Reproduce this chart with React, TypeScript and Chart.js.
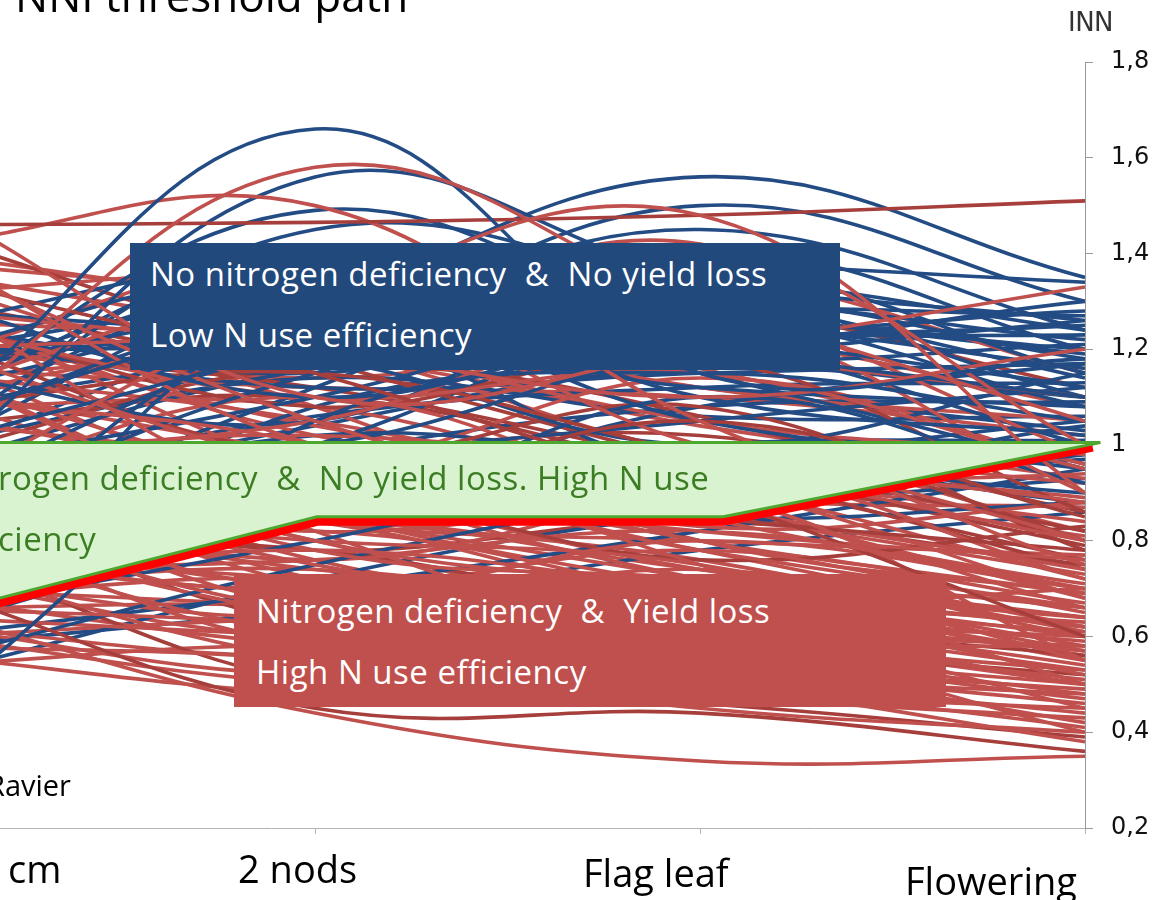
import React, { useEffect, useRef } from 'react';
import { Chart, registerables } from 'chart.js';

Chart.register(...registerables);

// ---- data ----
const stageLabels = ['Ear 1 cm', '2 nods', 'Flag leaf', 'Flowering'];
const stagePositions = [0, 1, 2, 3];
const yTickValues = [0.2, 0.4, 0.6, 0.8, 1.0, 1.2, 1.4, 1.6, 1.8];

// NNI threshold path (lower edge of the green zone)
const thresholdStages = [0, 1.005, 2.06, 3.02];
const thresholdNNI = [0.643, 0.85, 0.85, 1.005];
const zoneTopNNI = 1.005;
const zoneTipStage = 3.04;

// Plots without yield loss (blue), NNI at each stage
const blueLines = [
  [1.05, 1.66, 1.15, 1.18],
  [1.05, 1.30, 1.56, 1.35],
  [1.00, 1.22, 1.50, 1.30],
  [0.95, 1.56, 1.35, 1.26],
  [1.10, 1.49, 1.25, 1.12],
  [1.25, 1.40, 1.38, 1.34],
  [0.60, 1.30, 1.20, 1.10],
  [0.45, 1.05, 1.15, 1.05],
  [1.30, 1.10, 1.25, 1.20],
  [1.20, 1.35, 1.10, 1.02],
  [0.85, 1.15, 1.30, 1.18],
  [1.00, 1.00, 1.20, 1.25],
  [0.75, 1.25, 1.05, 0.95],
  [1.15, 1.05, 1.35, 1.15],
  [0.90, 1.20, 1.12, 1.08],
  [0.70, 0.95, 1.05, 1.12],
  [1.05, 1.28, 1.22, 1.00],
  [0.80, 0.85, 1.10, 0.92],
  [1.20, 1.18, 1.00, 1.15],
  [0.95, 1.10, 1.28, 1.22],
  [0.65, 0.80, 0.95, 0.90],
  [1.10, 1.40, 1.25, 1.28],
  [0.85, 1.02, 0.98, 1.05],
  [1.00, 1.32, 1.15, 0.95],
  [0.55, 0.75, 0.90, 0.98],
  [1.25, 1.15, 1.30, 1.10],
  [0.80, 1.12, 1.40, 1.20],
  [0.92, 0.90, 1.08, 1.17],
  [1.12, 1.24, 0.95, 1.04],
  [0.70, 1.08, 1.18, 1.26],
  [0.88, 0.95, 0.85, 0.88],
  [1.02, 1.45, 1.32, 1.14],
  [0.60, 0.70, 0.82, 0.95],
  [1.18, 1.26, 1.45, 1.24],
  [0.78, 1.00, 1.25, 1.08],
  [1.08, 1.20, 1.28, 1.27],
  [0.96, 1.16, 1.22, 1.23],
  [1.15, 1.28, 1.18, 1.21],
  [1.22, 1.12, 1.15, 1.17],
  [0.90, 1.06, 1.12, 1.13],
  [0.82, 0.98, 1.08, 1.09],
  [1.00, 1.14, 1.06, 1.06],
  [1.28, 1.22, 1.12, 1.03],
  [0.74, 0.92, 1.00, 1.01],
  [0.68, 0.88, 0.92, 0.97],
  [0.52, 0.72, 0.86, 0.93],
  [0.62, 0.84, 0.96, 0.88],
  [1.06, 1.36, 1.28, 1.19],
  [0.98, 1.26, 1.34, 1.24],
  [1.14, 1.34, 1.22, 1.30],
  [0.86, 1.04, 1.16, 1.10],
  [0.58, 0.66, 0.78, 0.86],
  [1.20, 1.30, 1.26, 1.16],
];

// Plots with yield loss (red), NNI at each stage
const redLines = [
  [1.05, 1.58, 1.30, 1.05],
  [0.90, 1.30, 1.48, 0.90],
  [1.20, 1.25, 1.42, 1.00],
  [1.46, 1.465, 1.48, 1.51],
  [1.42, 1.50, 1.05, 0.80],
  [1.50, 1.10, 1.20, 1.33],
  [1.40, 1.00, 0.95, 0.80],
  [1.38, 1.05, 0.85, 0.70],
  [1.30, 0.90, 1.00, 0.75],
  [1.35, 1.15, 0.90, 0.60],
  [1.28, 1.20, 1.10, 1.20],
  [1.20, 0.95, 0.80, 0.65],
  [1.15, 0.85, 0.90, 0.55],
  [1.10, 1.00, 0.75, 0.50],
  [1.05, 0.80, 0.70, 0.60],
  [1.00, 0.90, 1.05, 0.85],
  [0.95, 0.75, 0.65, 0.45],
  [0.90, 0.70, 0.80, 0.70],
  [0.85, 0.65, 0.60, 0.40],
  [0.80, 0.60, 0.55, 0.42],
  [0.75, 0.55, 0.50, 0.38],
  [0.70, 0.45, 0.44, 0.36],
  [0.65, 0.44, 0.34, 0.35],
  [0.60, 0.50, 0.48, 0.45],
  [1.25, 1.10, 1.15, 0.95],
  [1.12, 1.30, 1.00, 0.88],
  [0.98, 1.05, 1.25, 0.90],
  [0.88, 0.95, 0.85, 0.78],
  [0.78, 0.85, 0.95, 0.72],
  [0.72, 0.78, 0.70, 0.62],
  [0.68, 0.72, 0.62, 0.58],
  [1.32, 1.35, 1.20, 1.10],
  [1.18, 1.40, 1.30, 0.98],
  [1.08, 1.15, 0.98, 0.82],
  [0.96, 1.02, 0.92, 0.68],
  [0.86, 0.80, 0.75, 0.55],
  [0.76, 0.68, 0.58, 0.48],
  [0.66, 0.62, 0.52, 0.44],
  [0.58, 0.55, 0.45, 0.40],
  [1.22, 0.98, 1.08, 0.78],
  [1.02, 0.88, 0.98, 0.92],
  [0.92, 1.10, 0.88, 0.74],
  [0.82, 0.92, 0.78, 0.66],
  [0.74, 0.82, 0.68, 0.52],
  [1.36, 1.22, 1.05, 0.98],
  [1.26, 1.08, 1.18, 0.86],
  [1.14, 0.92, 0.82, 0.76],
  [1.04, 0.78, 0.72, 0.64],
  [0.94, 0.66, 0.70, 0.57],
  [0.84, 0.58, 0.62, 0.50],
  [0.64, 0.60, 0.56, 0.47],
  [0.70, 0.88, 0.76, 0.83],
  [0.80, 1.00, 0.83, 0.88],
  [0.90, 0.76, 0.90, 0.94],
  [1.00, 0.72, 0.66, 0.70],
  [1.16, 0.82, 0.60, 0.58],
  [1.30, 0.94, 0.72, 0.62],
  [1.44, 1.18, 0.96, 0.74],
  [1.40, 1.28, 1.12, 1.05],
  [0.62, 0.52, 0.58, 0.53],
  [0.56, 0.48, 0.47, 0.43],
  [0.82, 0.64, 0.54, 0.46],
  [1.06, 0.96, 1.14, 0.96],
  [0.98, 1.16, 1.06, 0.80],
  [1.24, 1.04, 0.92, 0.72],
  [0.72, 0.64, 0.74, 0.60],
  [0.88, 0.84, 0.66, 0.54],
  [1.10, 1.25, 1.35, 1.15],
  [0.95, 0.70, 0.52, 0.41],
  [0.78, 0.50, 0.46, 0.39],
  [1.15, 1.05, 0.88, 0.68],
  [1.05, 0.95, 0.78, 0.62],
  [0.98, 0.85, 0.72, 0.58],
  [0.92, 0.82, 0.86, 0.66],
  [0.86, 0.74, 0.68, 0.63],
  [0.80, 0.78, 0.64, 0.56],
  [0.76, 0.70, 0.78, 0.67],
  [0.70, 0.66, 0.60, 0.51],
  [0.68, 0.58, 0.54, 0.49],
  [0.62, 0.56, 0.63, 0.57],
  [1.28, 1.02, 0.94, 0.84],
  [1.20, 1.12, 0.96, 0.79],
  [1.12, 0.98, 0.86, 0.73],
  [1.34, 1.08, 0.80, 0.69],
  [1.18, 0.88, 0.76, 0.61],
  [1.00, 0.84, 0.80, 0.77],
  [0.94, 0.90, 0.74, 0.64],
  [0.90, 0.62, 0.58, 0.52],
  [0.84, 0.86, 0.92, 0.81],
  [0.74, 0.76, 0.82, 0.71],
  [1.08, 1.08, 0.90, 0.87],
  [1.14, 1.18, 1.04, 0.93],
  [1.26, 1.20, 0.98, 0.89],
  [0.96, 0.98, 1.02, 0.86],
  [0.82, 0.70, 0.66, 0.59],
  [0.72, 0.60, 0.68, 0.55],
  [0.66, 0.66, 0.57, 0.50],
  [1.02, 0.76, 0.64, 0.53],
  [1.10, 0.86, 0.70, 0.56],
  [0.88, 0.78, 0.84, 0.75],
  [0.78, 0.72, 0.70, 0.64],
  [1.16, 1.12, 1.10, 1.02],
  [1.38, 1.30, 1.16, 0.96],
  [0.60, 0.64, 0.66, 0.61],
  [0.54, 0.58, 0.52, 0.48],
  [1.04, 1.10, 0.94, 0.76],
  [0.92, 0.96, 0.80, 0.69],
  [1.22, 1.14, 1.22, 1.08],
  [0.86, 0.92, 1.00, 0.82],
  [0.98, 0.80, 0.62, 0.50],
  [0.76, 0.84, 0.74, 0.66],
  [1.30, 1.18, 1.28, 1.12],
  [0.70, 0.74, 0.64, 0.60],
];

// ---- styles ----
const BLUE = '#234B84';
const RED = '#C0504D';
const RED_DARK = '#A63E3B';
const FONT = "'Open Sans', 'Noto Sans', sans-serif";

const zonePlugin = {
  id: 'nniZone',
  afterDatasetsDraw(chart: any) {
    const { ctx, scales } = chart;
    const x = scales.x;
    const y = scales.y;
    const px = (s: number) => x.getPixelForValue(s);
    const py = (v: number) => y.getPixelForValue(v);
    ctx.save();
    // thick red threshold path, lying just under the green zone
    ctx.beginPath();
    thresholdStages.forEach((s, i) => {
      const X = px(s);
      const Y = py(thresholdNNI[i]) + 4.5;
      if (i === 0) ctx.moveTo(X, Y);
      else ctx.lineTo(X, Y);
    });
    ctx.strokeStyle = '#FF0000';
    ctx.lineWidth = 9;
    ctx.lineJoin = 'miter';
    ctx.stroke();
    // green zone between NNI = 1 and the threshold path
    ctx.beginPath();
    ctx.moveTo(px(thresholdStages[0]), py(zoneTopNNI));
    ctx.lineTo(px(zoneTipStage), py(zoneTopNNI));
    for (let i = thresholdStages.length - 2; i >= 0; i--) {
      ctx.lineTo(px(thresholdStages[i]), py(thresholdNNI[i]));
    }
    ctx.closePath();
    ctx.fillStyle = '#D9F2D0';
    ctx.fill();
    ctx.strokeStyle = '#4EA72E';
    ctx.lineWidth = 3;
    ctx.lineJoin = 'miter';
    ctx.stroke();
    ctx.restore();
  },
};

function buildDatasets() {
  const ds: any[] = [];
  const toPoints = (vals: number[]) => vals.map((v, i) => ({ x: stagePositions[i], y: v }));
  let b = 0;
  redLines.forEach((vals, i) => {
    ds.push({
      data: toPoints(vals),
      borderColor: i % 6 === 3 ? RED_DARK : RED,
    });
    if (i % 2 === 1 && b < blueLines.length) {
      ds.push({ data: toPoints(blueLines[b]), borderColor: BLUE });
      b++;
    }
  });
  while (b < blueLines.length) {
    ds.push({ data: toPoints(blueLines[b]), borderColor: BLUE });
    b++;
  }
  return ds.map((d) => ({
    ...d,
    borderWidth: 3.6,
    pointRadius: 0,
    tension: 0.4,
    fill: false,
  }));
}

function NNIChart() {
  const ref = useRef<HTMLCanvasElement | null>(null);
  useEffect(() => {
    if (!ref.current) return;
    const chart = new Chart(ref.current, {
      type: 'line',
      data: { datasets: buildDatasets() },
      plugins: [zonePlugin],
      options: {
        animation: false,
        responsive: false,
        maintainAspectRatio: false,
        events: [],
        layout: { padding: { top: 62, left: 0, right: 0, bottom: 0 } },
        elements: { line: { capBezierPoints: false } },
        plugins: { legend: { display: false }, tooltip: { enabled: false }, title: { display: false } },
        scales: {
          x: {
            type: 'linear',
            min: 0.1818,
            max: 3,
            afterBuildTicks: (s: any) => {
              s.ticks = stagePositions.slice(1).map((v) => ({ value: v }));
            },
            afterFit: (s: any) => {
              s.height = 72;
            },
            ticks: { callback: () => '', autoSkip: false, maxRotation: 0 },
            grid: { drawOnChartArea: false, drawTicks: true, tickLength: 6, color: '#b4b4b4', lineWidth: 1 },
            border: { display: true, color: '#b4b4b4', width: 1 },
          },
          y: {
            type: 'linear',
            position: 'right',
            min: 0.2,
            max: 1.8,
            afterBuildTicks: (s: any) => {
              s.ticks = yTickValues.map((v) => ({ value: v }));
            },
            afterFit: (s: any) => {
              s.width = 73;
            },
            ticks: {
              callback: (v: any) => (Number(v) === 1 ? '1' : Number(v).toFixed(1).replace('.', ',')),
              font: { family: "'DejaVu Sans', sans-serif", size: 24 },
              color: '#111111',
              padding: 18,
              autoSkip: false,
            },
            grid: { drawOnChartArea: false, drawTicks: true, tickLength: 8, color: '#999999' },
            border: { display: true, color: '#999999', width: 1 },
          },
        },
      } as any,
    });
    return () => chart.destroy();
  }, []);
  return <canvas ref={ref} width={1158} height={900} style={{ position: 'absolute', left: 0, top: 0, width: 1158, height: 900 }} />;
}

const textBase: React.CSSProperties = {
  position: 'absolute',
  whiteSpace: 'pre',
  fontFamily: FONT,
  lineHeight: 1,
  margin: 0,
};

function Cut({ hidden, shown, style }: { hidden: string; shown: string; style: React.CSSProperties }) {
  return (
    <div style={{ ...textBase, ...style }}>
      <span style={{ position: 'absolute', right: '100%', top: 0 }}>{hidden}</span>
      {shown}
    </div>
  );
}

export default function App() {
  const boxText: React.CSSProperties = { fontSize: 33, letterSpacing: 0.5, color: '#ffffff' };
  const green: React.CSSProperties = { fontSize: 33, letterSpacing: 0.5, color: '#3B7D23' };
  const xl: React.CSSProperties = { fontSize: 38, color: '#000000' };
  return (
    <div style={{ position: 'fixed', left: 0, top: 0, width: 1158, height: 900, overflow: 'hidden', background: '#ffffff' }}>
      <NNIChart />
      {/* title */}
      <div style={{ ...textBase, left: 15, top: -27, fontSize: 44, color: '#000' }}>NNI threshold path</div>
      <div style={{ ...textBase, left: 1068, top: 9, fontSize: 26, color: '#333', fontFamily: "'DejaVu Sans', sans-serif", letterSpacing: -0.5 }}>INN</div>

      {/* blue zone label */}
      <div style={{ position: 'absolute', left: 130, top: 243, width: 710, height: 127, background: '#22497C' }} />
      <div style={{ ...textBase, ...boxText, left: 150, top: 257 }}>No nitrogen deficiency  &amp;  No yield loss</div>
      <div style={{ ...textBase, ...boxText, left: 150, top: 318 }}>Low N use efficiency</div>

      {/* green zone label */}
      <Cut hidden="No nit" shown="rogen deficiency  &  No yield loss. High N use" style={{ ...green, left: -2, top: 461 }} />
      <Cut hidden="effi" shown="ciency" style={{ ...green, left: -2, top: 522 }} />

      {/* red zone label */}
      <div style={{ position: 'absolute', left: 234, top: 574, width: 712, height: 133, background: '#C0504D' }} />
      <div style={{ ...textBase, ...boxText, left: 256, top: 594 }}>Nitrogen deficiency  &amp;  Yield loss</div>
      <div style={{ ...textBase, ...boxText, left: 256, top: 655 }}>High N use efficiency</div>

      {/* source */}
      <Cut hidden="C. " shown="Ravier" style={{ fontSize: 29, color: '#000', left: -13, top: 770 }} />

      {/* stage labels */}
      <Cut hidden={stageLabels[0].replace('cm', '')} shown="cm" style={{ ...xl, left: 8, top: 849 }} />
      <div style={{ ...textBase, ...xl, left: 238, top: 849 }}>{stageLabels[1]}</div>
      <div style={{ ...textBase, ...xl, left: 583, top: 853 }}>{stageLabels[2]}</div>
      <div style={{ ...textBase, ...xl, left: 905, top: 861 }}>{stageLabels[3]}</div>
    </div>
  );
}
